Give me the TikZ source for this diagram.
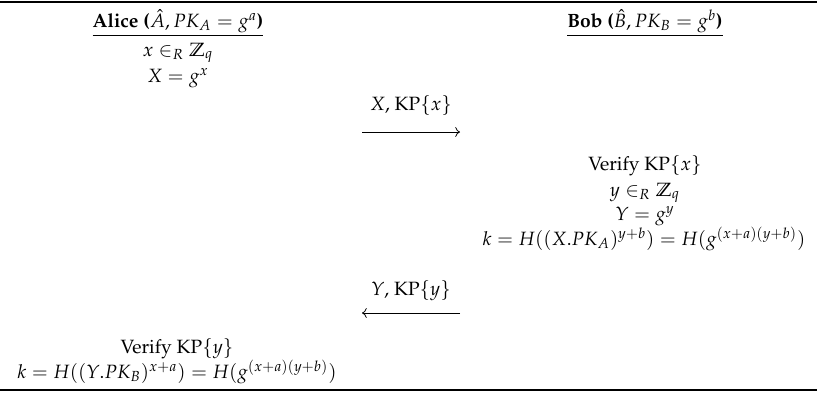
\documentclass[tikz,border=0pt]{standalone}
\usepackage[T1]{fontenc}
\usepackage{amsmath,amssymb}
\usepackage{mathpazo}
\usepackage{tikz}
\usetikzlibrary{arrows.meta,positioning,calc}

\begin{document}
\begin{tikzpicture}[
    x=0.52pt, y=-0.52pt,
    >=To,
    step text/.style={inner sep=0pt, anchor=base},
    msg text/.style={inner sep=0pt, anchor=base},
    msg arrow/.style={->, line width=0.4pt},
    rule line/.style={line width=0.9pt},
]
\useasboundingbox (0,0) rectangle (817,393);

% === RULES ===
\draw[rule line] (0,2) -- (817,2);
\draw[rule line] (0,390) -- (817,390);

% === LEFT: Alice ===
\node[step text] (alice) at (178,27) {\underline{\textbf{Alice (}$\hat{A}, PK_A = g^a$\textbf{)}}};
\node[step text] (a1) at (178,56) {$x \in_R \mathbb{Z}_q$};
\node[step text] (a2) at (178,82) {$X = g^x$};
\node[step text] (a3) at (177,353) {Verify KP$\{y\}$};
\node[step text] (a4) at (177,378) {$k = H((Y.PK_B)^{x+a}) = H(g^{(x+a)(y+b)})$};

% === MESSAGES ===
\node[msg text] (m1) at (411,110) {$X$, KP$\{x\}$};
\coordinate (m1s) at (362,132);
\coordinate (m1e) at (460,132);
\draw[msg arrow] (m1s) -- (m1e);

\node[msg text] (m2) at (411,295) {$Y$, KP$\{y\}$};
\coordinate (m2s) at (460,313);
\coordinate (m2e) at (362,313);
\draw[msg arrow] (m2s) -- (m2e);

% === RIGHT: Bob ===
\node[step text] (bob) at (645,27) {\underline{\textbf{Bob (}$\hat{B}, PK_B = g^b$\textbf{)}}};
\node[step text] (b1) at (645,170) {Verify KP$\{x\}$};
\node[step text] (b2) at (645,196) {$y \in_R \mathbb{Z}_q$};
\node[step text] (b3) at (645,220) {$Y = g^y$};
\node[step text] (b4) at (644,245) {$k = H((X.PK_A)^{y+b}) = H(g^{(x+a)(y+b)})$};

\end{tikzpicture}
\end{document}
